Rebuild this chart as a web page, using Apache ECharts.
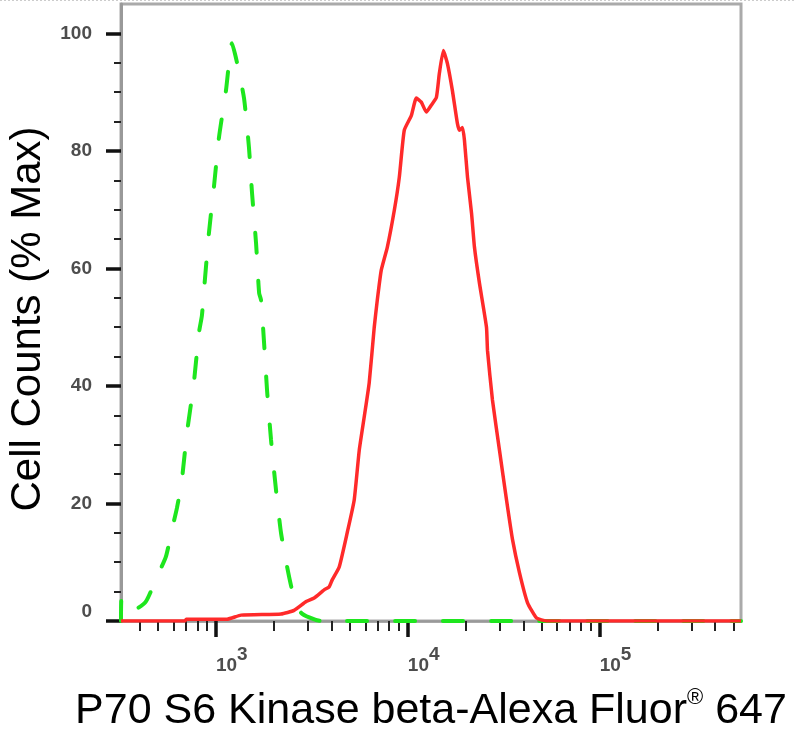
<!DOCTYPE html>
<html><head><meta charset="utf-8">
<script src="https://cdn.jsdelivr.net/npm/echarts@6/dist/echarts.min.js"></script>
<style>html,body{margin:0;padding:0;background:#fff}#c{width:796px;height:736px}</style>
</head><body><div id="c"></div>
<script>
// Isotype control (green dashed)
const isotypeX = [320, 322, 343, 373, 431, 492, 548, 589, 626, 664, 706, 767, 815, 845, 865, 919, 977, 1037, 1128, 1213, 1288, 1400, 1486, 1542, 1618, 1679, 1718, 1782, 1846, 1937, 2056, 2183, 2349, 2494, 2779, 3533, 545000];
const isotypeY = [0, 4, 2.2, 1.9, 3.3, 7.5, 10.9, 15.5, 19.2, 24, 32, 40.5, 49, 52, 56, 66, 74, 82.3, 90.3, 98.3, 95, 89, 80.6, 72.8, 64.3, 55.8, 54.6, 47.3, 39.3, 30.8, 22.3, 15, 9.2, 5.3, 1.4, 0, 0];
// Antibody stained sample (red)
const sampleX = [320, 689, 700, 1141, 1351, 2185, 2554, 2951, 3250, 3664, 3890, 4036, 4389, 4830, 5255, 5580, 5925, 6290, 6683, 6932, 7270, 7816, 8503, 9026, 9580, 10425, 11075, 11755, 12487, 13267, 14090, 14600, 15315, 16075, 17064, 18120, 18570, 19270, 19730, 20470, 21480, 22250, 23620, 25700, 26020, 27610, 30050, 32690, 35150, 38200, 42070, 46880, 52840, 545000];
const sampleY = [0, 0, 0.3, 0.3, 1, 1.2, 1.8, 3.3, 3.9, 5.3, 5.8, 7, 9.2, 15, 20.6, 29, 34.7, 40.5, 50, 54.6, 59.7, 63.6, 69.9, 75.5, 83.5, 86, 89, 88.3, 86.6, 87.8, 89.1, 93.2, 97.1, 94.9, 90.3, 84.7, 83.5, 84, 81.8, 75.5, 69.4, 63.6, 57.5, 50, 46, 37.6, 29, 20.6, 13.8, 8.2, 3.1, 0.5, 0, 0];

const yMajorTicks = [0, 20, 40, 60, 80, 100];
const yMinorTicks = [5, 10, 15, 25, 30, 35, 45, 50, 55, 65, 70, 75, 85, 90, 95];
const xMajorTicks = [1000, 10000, 100000];
const xMajorExponents = ['3', '4', '5'];
const xMinorTicks = [400, 500, 600, 700, 800, 900, 2000, 3000, 4000, 5000, 6000, 7000, 8000, 9000, 20000, 30000, 40000, 50000, 60000, 70000, 80000, 90000, 200000, 300000, 400000, 500000];
const xMin = 320, xMax = 545000, yMin = 0, yMax = 105;
const xTitleMain = 'P70 S6 Kinase beta-Alexa Fluor', xTitleMark = '®', xTitleEnd = ' 647';
const yTitle = 'Cell Counts (% Max)';

const FONT = 'Arial, "Liberation Sans", sans-serif';
const LABEL_COLOR = '#4d4d4d';
const zip = (xs, ys) => xs.map((x, i) => [x, ys[i]]);

const chart = echarts.init(document.getElementById('c'), null, {renderer: 'canvas'});
chart.setOption({
  animation: false,
  backgroundColor: '#fff',
  grid: {left: 121, right: 55, top: 4, bottom: 115, show: true, borderColor: '#aaaaaa', borderWidth: 3, outerBoundsMode: 'none'},
  graphic: [{type: 'line', shape: {x1: 0, y1: 0.5, x2: 796, y2: 0.5}, style: {stroke: '#cccccc', lineWidth: 1, lineDash: [2, 2]}, silent: true}],
  xAxis: [
    {type: 'log', logBase: 10, min: xMin, max: xMax, position: 'bottom',
     axisLine: {show: true, lineStyle: {color: '#999', width: 2.5}},
     axisTick: {show: true, customValues: xMinorTicks, length: 10, lineStyle: {color: '#222', width: 2}},
     axisLabel: {show: false}, splitLine: {show: false}, minorTick: {show: false}},
    {type: 'log', logBase: 10, min: xMin, max: xMax, position: 'bottom',
     axisLine: {show: false},
     axisTick: {show: true, customValues: xMajorTicks, length: 16, lineStyle: {color: '#111', width: 3.5}},
     axisLabel: {show: true, customValues: xMajorTicks, margin: 24, align: 'left',
       formatter: v => '{b|10}{s|' + xMajorExponents[xMajorTicks.indexOf(v)] + '}',
       rich: {b: {fontSize: 19, fontFamily: FONT, fontWeight: 'bold', color: LABEL_COLOR, lineHeight: 30, verticalAlign: 'bottom'},
              s: {fontSize: 19, fontFamily: FONT, fontWeight: 'bold', color: LABEL_COLOR, verticalAlign: 'top'}}},
     splitLine: {show: false},
     name: '{a|' + xTitleMain + '}{r|' + xTitleMark + '}{a|' + xTitleEnd + '}',
     nameLocation: 'middle', nameGap: 66,
     nameTextStyle: {rich: {a: {fontSize: 43, fontFamily: FONT, color: '#000', lineHeight: 46, verticalAlign: 'bottom'},
                            r: {fontSize: 22, fontFamily: FONT, color: '#000', verticalAlign: 'top'}}}}
  ],
  yAxis: [
    {type: 'value', min: yMin, max: yMax, position: 'left',
     axisLine: {show: true, lineStyle: {color: '#999', width: 3}},
     axisTick: {show: true, customValues: yMinorTicks, length: 7, lineStyle: {color: '#222', width: 2}},
     axisLabel: {show: false}, splitLine: {show: false}},
    {type: 'value', min: yMin, max: yMax, position: 'left',
     axisLine: {show: false},
     axisTick: {show: true, customValues: yMajorTicks, length: 15, lineStyle: {color: '#111', width: 3.5}},
     axisLabel: {show: true, customValues: yMajorTicks, margin: 29, fontSize: 19, fontFamily: FONT, fontWeight: 'bold', color: LABEL_COLOR,
       formatter: v => v === 0 ? '{z|0}' : String(v),
       rich: {z: {fontSize: 19, fontFamily: FONT, fontWeight: 'bold', color: LABEL_COLOR, padding: [0, 0, 18, 0]}}},
     splitLine: {show: false},
     name: yTitle, nameLocation: 'middle', nameGap: 70, nameRotate: 90,
     nameTextStyle: {fontSize: 42, fontFamily: FONT, color: '#000', padding: [0, 13, 0, 0]}}
  ],
  series: [
    {type: 'line', name: 'Isotype', xAxisIndex: 0, yAxisIndex: 0, data: zip(isotypeX, isotypeY),
     showSymbol: false, smooth: 0.2, clip: true,
     lineStyle: {color: '#1ee61e', width: 4, type: [20, 28], cap: 'round'}, z: 2},
    {type: 'line', name: 'Sample', xAxisIndex: 0, yAxisIndex: 0, data: zip(sampleX, sampleY),
     showSymbol: false, smooth: 0.15, clip: true,
     lineStyle: {color: '#ff2a2a', width: 3.5}, z: 3}
  ]
});
</script></body></html>
